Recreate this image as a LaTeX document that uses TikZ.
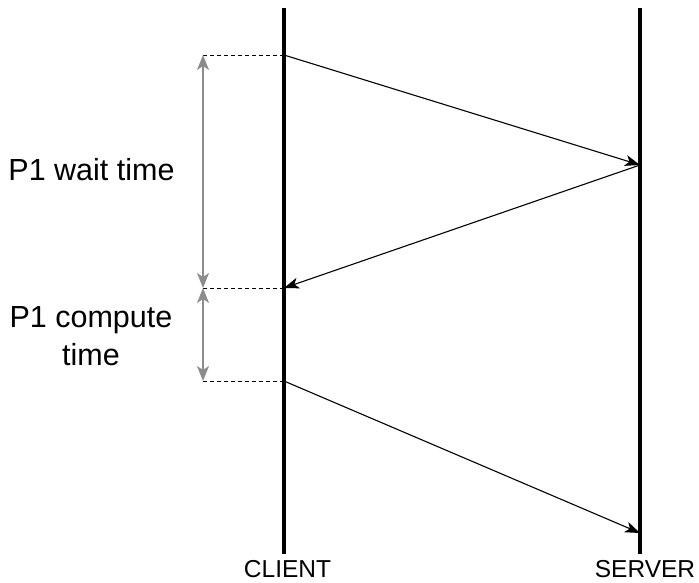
\documentclass[tikz,border=0pt]{standalone}
\usepackage{fontspec}
\setmainfont{Liberation Sans}
\usetikzlibrary{arrows.meta}
\begin{document}
\begin{tikzpicture}[x=1pt,y=-1pt,
  lifeline/.style={line width=4pt},
  msg/.style={line width=1.1pt,-{Stealth[length=15pt,width=11pt,inset=4pt]}},
  guide/.style={line width=0.9pt,dash pattern=on 4pt off 3pt},
  span/.style={draw=gray!90,line width=1.5pt,{Stealth[length=15pt,width=12pt,inset=4pt]}-{Stealth[length=15pt,width=12pt,inset=4pt]}},
  biglabel/.style={font=\fontsize{30.5}{38}\selectfont,inner sep=0pt,align=center},
  endlabel/.style={font=\fontsize{24.5}{28}\selectfont,inner sep=0pt,anchor=base}]
\useasboundingbox (0,0) rectangle (699,582);
% lifelines
\coordinate (ctop) at (284,8);
\coordinate (cbot) at (284,554);
\coordinate (stop) at (640,8);
\coordinate (sbot) at (640,554);
\draw[lifeline] (ctop) -- (cbot);
\draw[lifeline] (stop) -- (sbot);
% message points
\coordinate (c1) at (284,55);
\coordinate (s1) at (640,165);
\coordinate (c2) at (284,288);
\coordinate (c3) at (284,381);
\coordinate (s3) at (640,533);
\draw[msg] (c1) -- (s1);
\draw[msg] (s1) -- (c2);
\draw[msg] (c3) -- (s3);
% guides
\coordinate (g1) at (203,55);
\coordinate (g2) at (203,288);
\coordinate (g3) at (203,381);
\draw[guide] (g1) -- (c1);
\draw[guide] (g2) -- (c2);
\draw[guide] (g3) -- (c3);
\draw[span] (g1) -- (g2);
\draw[span] (g2) -- (g3);
% labels
\node[biglabel,anchor=base] (wait) at (91.5,180) {P1 wait time};
\node[biglabel] (compute) at (91,336.5) {P1 compute\\time};
\node[endlabel] (client) at (287.5,577) {CLIENT};
\node[endlabel] (server) at (645,577) {SERVER};
\end{tikzpicture}
\end{document}
